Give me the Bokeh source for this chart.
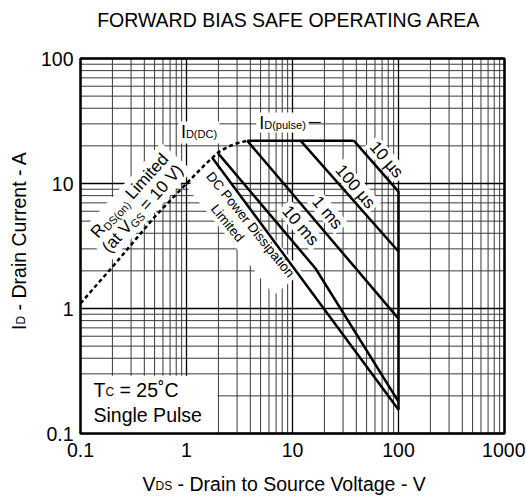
import math
from bokeh.plotting import figure
from bokeh.models import Label
from bokeh.embed import file_html
from bokeh.resources import INLINE

# ---------------- data ----------------
rds_v = [0.1, 0.2, 0.5, 1.0, 1.5, 2.0, 2.5, 3.0, 3.74]
rds_i = [1.1, 2.15, 5.4, 10.0, 14.2, 17.8, 19.8, 21.0, 22.0]

pulse_v = [3.74, 37.9]
pulse_i = [22.0, 22.0]

us10_v = [37.9, 100.0, 100.0]
us10_i = [22.0, 8.6, 0.155]

us100_v = [11.9, 100.0]
us100_i = [22.0, 2.86]

ms1_v = [3.74, 100.0]
ms1_i = [22.0, 0.83]

ms10_v = [1.99, 16.5, 100.0]
ms10_i = [17.4, 2.09, 0.18]

dc_v = [1.75, 100.0]
dc_i = [16.1, 0.155]

pulse_mark_v = [4.6, 18.5]
pulse_mark_i = [30.8, 30.8]

x_ticks = [0.1, 1, 10, 100, 1000]
x_tick_labels = ["0.1", "1", "10", "100", "1000"]
y_ticks = [0.1, 1, 10, 100]
y_tick_labels = ["0.1", "1", "10", "100"]

# ---------------- layout helpers ----------------
FONT = "Liberation Sans"
AW = {' ': 278, '-': 333, '(': 333, ')': 333, '=': 584, '.': 278,
      'A': 667, 'B': 667, 'C': 722, 'D': 722, 'E': 667, 'F': 611, 'G': 778, 'I': 278,
      'L': 556, 'N': 722, 'O': 778, 'P': 667, 'R': 722, 'S': 667, 'T': 611, 'V': 667, 'W': 944,
      'a': 556, 'c': 500, 'd': 556, 'e': 556, 'g': 556, 'i': 222, 'l': 222, 'm': 833,
      'n': 556, 'o': 556, 'p': 556, 'r': 333, 's': 500, 't': 278, 'u': 556, 'w': 722,
      '\u00b5': 577, '\u02da': 333}
K_BASE = 0.35   # empirical: rendered baseline sits this many ems below the anchor


def tw(s, size):
    return sum(AW.get(ch, 556) for ch in s) * size / 1000.0


W, H = 526, 498
FX0, FX1, FY0, FY1 = 80, 504, 58, 433   # plot box in canvas pixels
PXD = (FX1 - FX0) / 4.0
PYD = (FY1 - FY0) / 3.0


def px2data(ix, iy):
    return (10 ** (-1 + (ix - FX0) / PXD), 10 ** (-1 + (FY1 - iy) / PYD))


def data2px(x, y):
    return (FX0 + (math.log10(x) + 1) * PXD, FY1 - (math.log10(y) + 1) * PYD)


labels = []
boxes = []


def put(text, size, bx, by, a=0.0, align="left"):
    """Place text so that its baseline point (bx, by) in canvas pixels is where it appears."""
    dx, dy = math.sin(a), math.cos(a)
    X, Y = px2data(bx - K_BASE * size * dx, by - K_BASE * size * dy)
    labels.append(Label(x=X, y=Y, text=text, angle=a, text_font=FONT,
                        text_font_size=f"{size}px", text_align=align,
                        text_baseline="alphabetic", text_color="black"))


def text_line(pieces, cx, cy, ang=0.0, align="center"):
    """pieces: (text, size, shift_down); (cx, cy): centre of line, or baseline start if align='start'."""
    total = sum(tw(t, s) for t, s, _ in pieces)
    main = max(s for _, s, _ in pieces)
    a = math.radians(ang)
    ux, uy = math.cos(a), -math.sin(a)
    dx, dy = math.sin(a), math.cos(a)
    if align == "center":
        cap = 0.716 * main
        sx = cx - total / 2 * ux + cap / 2 * dx
        sy = cy - total / 2 * uy + cap / 2 * dy
    else:
        sx, sy = cx, cy
    cum = 0.0
    for t, s, sh in pieces:
        stripped = t.lstrip(" ")
        lead = tw(t[:len(t) - len(stripped)], s)
        c = cum + lead
        put(stripped, s, sx + c * ux + sh * dx, sy + c * uy + sh * dy, a)
        cum += tw(t, s)
    return total


def box(cx, cy, w, h, ang=0.0):
    boxes.append((cx, cy, w, h, math.radians(ang)))


# ---------------- figure (frame = whole canvas) ----------------
x0, y1 = px2data(0, 0)
x1, y0 = px2data(W, H)
p = figure(width=W, height=H, x_axis_type="log", y_axis_type="log",
           x_range=(x0, x1), y_range=(y0, y1),
           output_backend="svg", toolbar_location=None, min_border=0)
p.xaxis.visible = False
p.yaxis.visible = False
p.xgrid.visible = False
p.ygrid.visible = False
p.outline_line_color = None
p.background_fill_color = "white"
p.border_fill_color = "white"

xmin, xmax = x_ticks[0], x_ticks[-1]
ymin, ymax = y_ticks[0], y_ticks[-1]
x_minor = [m * 10.0 ** e for e in range(-1, 3) for m in range(2, 10)]
y_minor = [m * 10.0 ** e for e in range(-1, 2) for m in range(2, 10)]

# grid
p.segment(x0=x_minor, y0=[ymin] * len(x_minor), x1=x_minor, y1=[ymax] * len(x_minor),
          line_color="#3a3a3a", line_width=1)
p.segment(x0=[xmin] * len(y_minor), y0=y_minor, x1=[xmax] * len(y_minor), y1=y_minor,
          line_color="#3a3a3a", line_width=1)
p.segment(x0=x_ticks, y0=[ymin] * len(x_ticks), x1=x_ticks, y1=[ymax] * len(x_ticks),
          line_color="black", line_width=1.3)
p.segment(x0=[xmin] * len(y_ticks), y0=y_ticks, x1=[xmax] * len(y_ticks), y1=y_ticks,
          line_color="black", line_width=1.3)

# ---------------- in-plot labels ----------------
SZ = 17
SUB = 11
w1 = text_line([("R", SZ, 0), ("DS(on)", SUB, 2), (" Limited", SZ, 0)], 129, 195, 48)
w2 = text_line([("(at V", SZ, 0), ("GS", SUB, 2), (" = 10 V)", SZ, 0)], 142, 208, 48)
box(135.5, 201.5, max(w1, w2) + 10, 42, 48)

DCS = 13.5
w1 = text_line([("DC Power Dissipation", DCS, 0)], 250, 224, -51)
text_line([("Limited", DCS, 0)], 227, 222.5, -51)
a = math.radians(-51)
box(250 + 8 * math.sin(a), 224 + 8 * math.cos(a), w1 + 8, 36, -51)

for txt, cx, cy in [("10 ms", 300, 225), ("1 ms", 327, 212),
                    ("100 \u00b5s", 355, 186), ("10 \u00b5s", 386, 159)]:
    w = text_line([(txt, SZ, 0)], cx, cy, -49.7)
    box(cx, cy, w + 6, 18, -49.7)

text_line([("I", 18, 0), ("D(DC)", SUB, 0)], 198.5, 131)
box(198.5, 132, 41, 22)
w = text_line([("I", 18, 0), ("D(pulse)", SUB, 0)], 282, 122)
box(282, 122, w + 6, 20)

text_line([("T", 19.5, 0), ("C", 12, 0), (" = 25\u02daC", 19.5, 0)], 93, 396, 0, align="start")
text_line([("Single Pulse", 19.5, 0)], 93, 421.5, 0, align="start")

# ---------------- outside texts ----------------
text_line([("FORWARD BIAS SAFE OPERATING AREA", 19.5, 0)], 289.5, 19.5)
text_line([("V", 19.5, 0), ("DS", 12, 0), (" - Drain to Source Voltage - V", 19.5, 0)],
          142, 490, 0, align="start")
text_line([("I", 19.5, 0), ("D", 12, 0), (" - Drain Current - A", 19.5, 0)], 18, 240, 90)

for v, t in zip(y_ticks, y_tick_labels):
    _, py = data2px(1, v)
    put(t, 19.5, 73, py + 7, 0, "right")
for v, t in zip(x_ticks, x_tick_labels):
    px, _ = data2px(v, 1)
    align = "center"
    if px + tw(t, 19.5) / 2 > W - 1:
        px, align = W - 1, "right"
    put(t, 19.5, px, 456, 0, align)

# ---------------- glyphs ----------------
p.quad(left=[xmin], right=[1.96], bottom=[ymin], top=[0.29], fill_color="white", line_color=None)
p.line(pulse_mark_v, pulse_mark_i, line_color="black", line_width=1)
for cx, cy, w, h, a in boxes:
    X, Y = px2data(cx, cy)
    p.rect(x=[X], y=[Y], width=[w], height=[h], angle=a, width_units="screen",
           height_units="screen", fill_color="white", line_color=None)

p.line(rds_v, rds_i, line_color="black", line_width=2.5, line_dash="4 3")
for vs, is_ in [(pulse_v, pulse_i), (us10_v, us10_i), (us100_v, us100_i),
                (ms1_v, ms1_i), (ms10_v, ms10_i), (dc_v, dc_i)]:
    p.line(vs, is_, line_color="black", line_width=2.5)

# plot box outline
p.quad(left=[xmin], right=[xmax], bottom=[ymin], top=[ymax],
       fill_color=None, line_color="black", line_width=2.5)

for lab in labels:
    p.add_layout(lab)

open("out.html", "w").write(file_html(p, INLINE))
